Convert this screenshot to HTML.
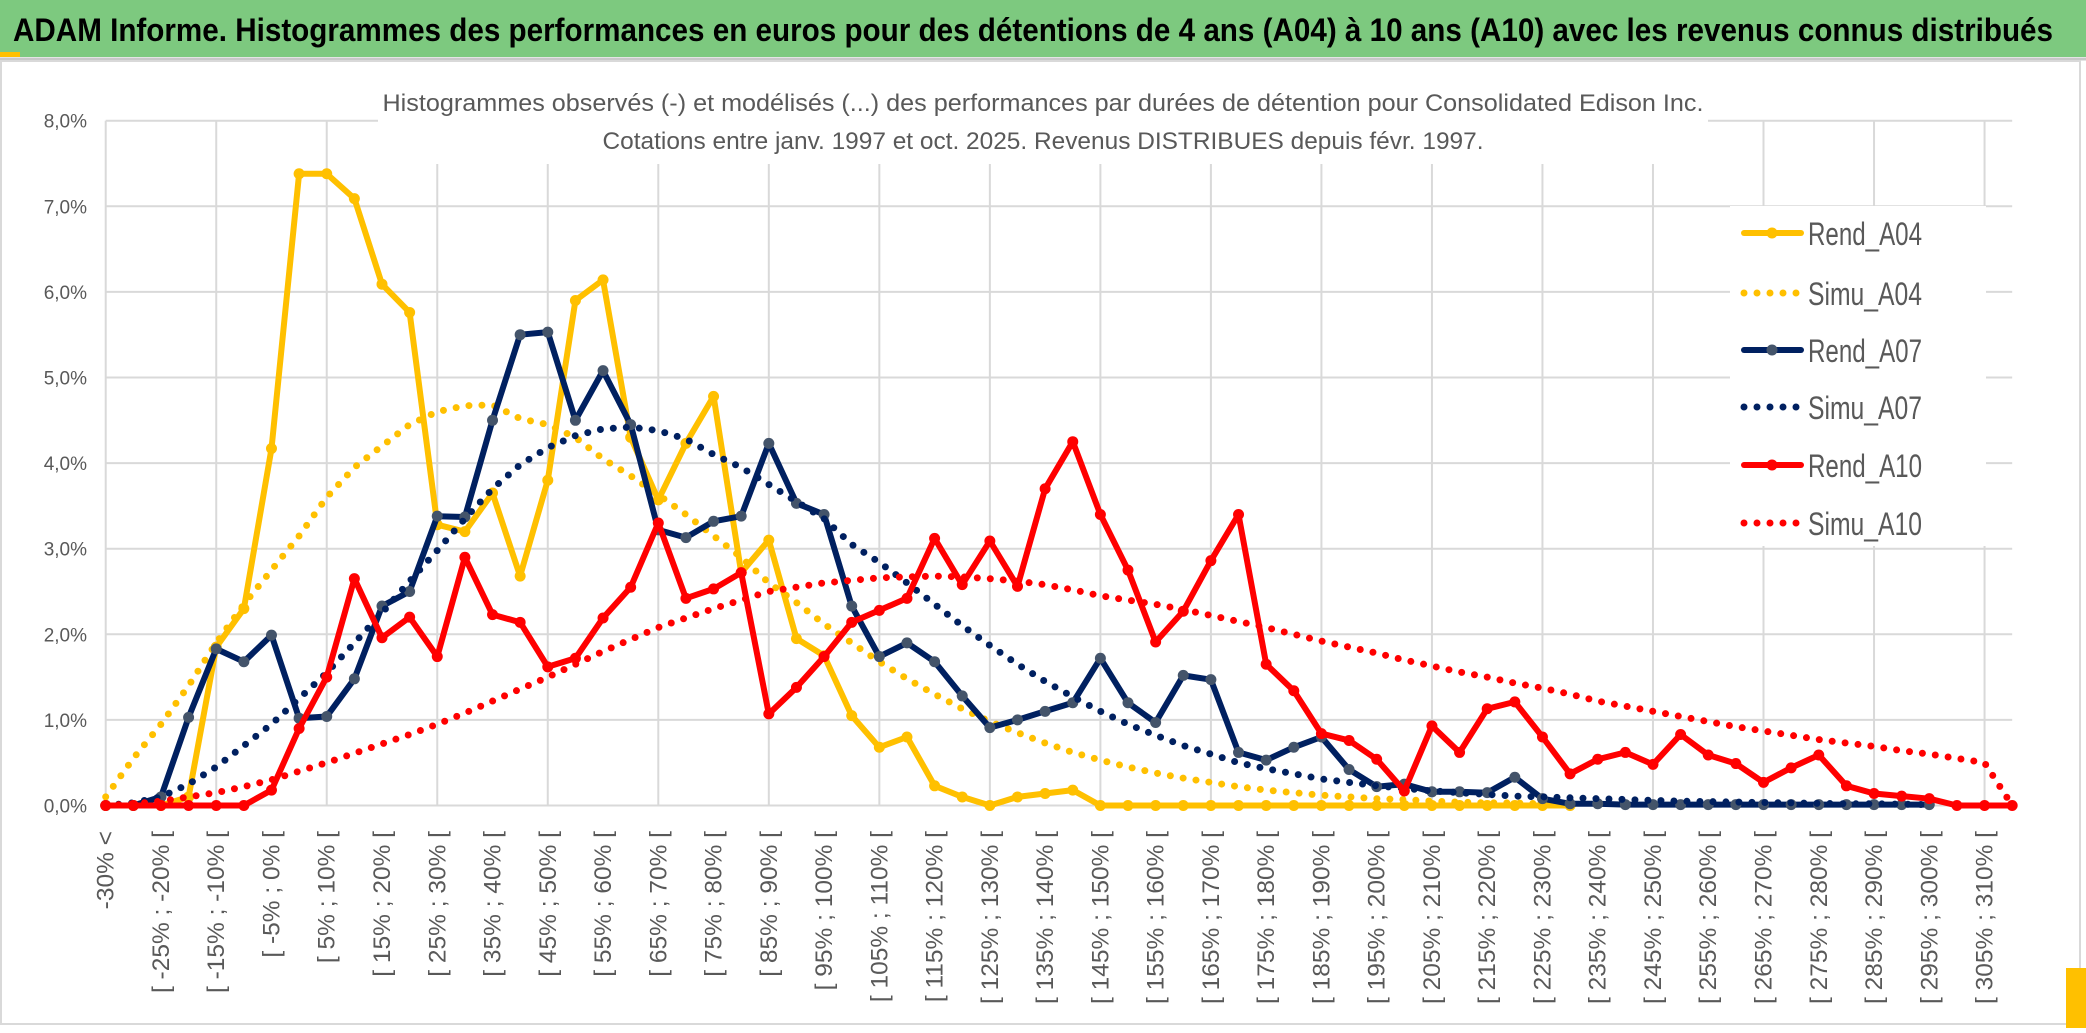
<!DOCTYPE html>
<html><head><meta charset="utf-8"><style>
html,body{margin:0;padding:0;background:#fff;}
svg{display:block;font-family:"Liberation Sans",sans-serif;}
</style></head><body>
<svg id="chart" width="2086" height="1033" viewBox="0 0 2086 1033" xmlns="http://www.w3.org/2000/svg">
<rect x="0" y="0" width="2086" height="1033" fill="#fff"/>
<rect x="0" y="0" width="2086" height="57" fill="#7DC97F"/>
<rect x="0" y="52" width="20" height="5" fill="#FFC000"/>
<text x="13" y="41" font-size="32" font-weight="bold" fill="#000" textLength="2040" lengthAdjust="spacingAndGlyphs">ADAM Informe. Histogrammes des performances en euros pour des détentions de 4 ans (A04) à 10 ans (A10) avec les revenus connus distribués</text>
<line x1="0" y1="59" x2="2086" y2="59" stroke="#C8C8C8" stroke-width="3"/>
<rect x="1" y="61" width="2079" height="963" fill="none" stroke="#D9D9D9" stroke-width="2"/>
<rect x="2066" y="968" width="20" height="60" fill="#FFC000"/>
<g id="grid"></g>
<g id="yaxis"></g>
<g id="xaxis"></g>
<rect x="378" y="78" width="1330" height="86" fill="#fff"/>
<text x="1043" y="111" font-size="24" fill="#595959" text-anchor="middle" textLength="1321" lengthAdjust="spacingAndGlyphs">Histogrammes observés (-) et modélisés (...) des performances par durées de détention pour Consolidated Edison Inc.</text>
<text x="1043" y="149" font-size="24" fill="#595959" text-anchor="middle" textLength="881" lengthAdjust="spacingAndGlyphs">Cotations entre janv. 1997 et oct. 2025. Revenus DISTRIBUES depuis févr. 1997.</text>
<g id="series"></g>
<rect x="1730" y="206" width="256" height="340" fill="#fff"/>
<g id="legend"></g>
</svg>
<script>
const rendA04 = [0,0,0,0.1,1.85,2.3,4.17,7.38,7.38,7.09,6.09,5.76,3.28,3.2,3.65,2.68,3.8,5.9,6.14,4.3,3.57,4.23,4.78,2.72,3.1,1.95,1.75,1.05,0.68,0.8,0.23,0.1,0,0.1,0.14,0.18,0,0,0,0,0,0,0,0,0,0,0,0,0,0,0,0,0,0];
const simuA04 = [0.1,0.55,0.95,1.4,1.9,2.35,2.75,3.15,3.6,3.95,4.2,4.45,4.6,4.67,4.68,4.52,4.45,4.3,4.05,3.85,3.63,3.4,3.15,2.9,2.6,2.37,2.12,1.9,1.68,1.48,1.3,1.13,0.98,0.85,0.73,0.62,0.53,0.45,0.38,0.32,0.27,0.22,0.18,0.15,0.12,0.1,0.08,0.07,0.05,0.04,0.03,0.03,0.02,0.02];
const rendA07 = [0,0,0.1,1.03,1.83,1.68,1.99,1.02,1.04,1.48,2.33,2.5,3.38,3.37,4.5,5.5,5.53,4.5,5.08,4.45,3.22,3.13,3.32,3.38,4.23,3.53,3.4,2.33,1.74,1.9,1.68,1.28,0.91,1.0,1.1,1.2,1.72,1.2,0.97,1.52,1.47,0.62,0.53,0.68,0.8,0.42,0.22,0.25,0.16,0.16,0.15,0.33,0.08,0.02,0.02,0.01,0.01,0.01,0.01,0.01,0.01,0.01,0.01,0.01,0.01,0.01,0.01];
const simuA07 = [0,0.03,0.1,0.25,0.45,0.7,0.95,1.25,1.55,1.9,2.25,2.62,2.98,3.35,3.7,3.98,4.18,4.32,4.4,4.42,4.38,4.28,4.1,3.95,3.75,3.55,3.35,3.05,2.84,2.6,2.35,2.1,1.87,1.65,1.45,1.27,1.1,0.95,0.82,0.7,0.6,0.5,0.43,0.37,0.31,0.27,0.23,0.2,0.17,0.15,0.13,0.11,0.1,0.09,0.08,0.07,0.06,0.05,0.045,0.04,0.035,0.03,0.025,0.02,0.02,0.015,0.01];
const rendA10 = [0,0,0,0,0,0,0.18,0.9,1.5,2.65,1.96,2.2,1.74,2.9,2.23,2.14,1.62,1.72,2.19,2.55,3.3,2.42,2.53,2.72,1.07,1.38,1.74,2.14,2.28,2.42,3.12,2.58,3.09,2.56,3.7,4.25,3.4,2.75,1.91,2.27,2.86,3.4,1.65,1.34,0.84,0.76,0.54,0.17,0.93,0.62,1.13,1.21,0.8,0.37,0.54,0.62,0.48,0.83,0.59,0.49,0.27,0.44,0.59,0.23,0.14,0.11,0.08,0,0,0];
const simuA10 = [0,0.02,0.05,0.1,0.15,0.22,0.3,0.4,0.5,0.61,0.72,0.83,0.95,1.08,1.22,1.36,1.5,1.65,1.8,1.94,2.08,2.19,2.3,2.4,2.5,2.55,2.6,2.63,2.66,2.67,2.68,2.67,2.65,2.62,2.58,2.52,2.45,2.4,2.35,2.29,2.22,2.15,2.08,2.0,1.92,1.85,1.78,1.7,1.63,1.56,1.5,1.43,1.37,1.3,1.22,1.16,1.1,1.04,0.98,0.92,0.87,0.82,0.77,0.73,0.69,0.64,0.6,0.55,0.5,0];
const yTicks = [0,1,2,3,4,5,6,7,8];
const yTickLabels = ["0,0%","1,0%","2,0%","3,0%","4,0%","5,0%","6,0%","7,0%","8,0%"];
const categories = ["-30% <"];
for (let k = 1; k < 70; k++) { const lo = -30 + 5*(k-1); categories.push("[ " + lo + "% ; " + (lo+5) + "% ["); }

const NS = "http://www.w3.org/2000/svg";
const X0 = 105.7, DX = 27.63, Y0 = 805.5, DY = 85.6;
function xScale(i){ return X0 + i*DX; }
function yScale(v){ return Y0 - v*DY; }
function mk(tag, attrs, parent){ const e = document.createElementNS(NS, tag); for (const k in attrs) e.setAttribute(k, attrs[k]); parent.appendChild(e); return e; }

const grid = document.getElementById('grid');
const xRight = xScale(69);
yTicks.forEach(function(v){
  const l = mk('line', {x1:X0, x2:xRight, y1:yScale(v), y2:yScale(v), stroke:'#D9D9D9', 'stroke-width':2}, grid);
  
  
});
for (let i = 0; i < 70; i += 4) {
  const l = mk('line', {x1:xScale(i), x2:xScale(i), y1:yScale(8), y2:yScale(0), stroke:'#D9D9D9', 'stroke-width':2}, grid);
  
  
}
const yaxis = document.getElementById('yaxis');
yTicks.forEach(function(v, k){
  const t = mk('text', {x:87, y:yScale(v)+7, 'font-size':19, fill:'#595959', 'text-anchor':'end'}, yaxis);
  t.textContent = yTickLabels[k];
  
  
});
const xaxis = document.getElementById('xaxis');
categories.forEach(function(c, i){
  if (i % 2 !== 0) return;
  const x = xScale(i) + 8, y = 831;
  const t = mk('text', {x:x, y:y, 'font-size':24.5, fill:'#595959', 'text-anchor':'end', transform:'rotate(-90 '+x+' '+y+')'}, xaxis);
  t.textContent = c;
  
  
});

const series = document.getElementById('series');
function pts(arr){ return arr.map(function(v,i){ return xScale(i).toFixed(1)+','+yScale(v).toFixed(1); }).join(' '); }
function solid(arr, color, mcolor, name){
  const g = mk('g', {}, series);
  
  
  mk('polyline', {points:pts(arr), fill:'none', stroke:color, 'stroke-width':6, 'stroke-linejoin':'round', 'stroke-linecap':'round'}, g);
  arr.forEach(function(v,i){
    const c = mk('circle', {cx:xScale(i), cy:yScale(v), r:5.5, fill:mcolor}, g);
    
    
  });
}
function dotted(arr, color, name){
  const p = mk('polyline', {points:pts(arr), fill:'none', stroke:color, 'stroke-width':7, 'stroke-dasharray':'0 13', 'stroke-linecap':'round', 'stroke-linejoin':'round'}, series);
  
  
}
solid(rendA04, '#FFC000', '#FFC000', 'rend-a04-line');
dotted(simuA04, '#FFC000', 'simu-a04-line');
solid(rendA07, '#002060', '#44546A', 'rend-a07-line');
dotted(simuA07, '#002060', 'simu-a07-line');
solid(rendA10, '#FF0000', '#FF0000', 'rend-a10-line');
dotted(simuA10, '#FF0000', 'simu-a10-line');

const legendNames = ["Rend_A04","Simu_A04","Rend_A07","Simu_A07","Rend_A10","Simu_A10"];
const legendColors = ["#FFC000","#FFC000","#002060","#002060","#FF0000","#FF0000"];
const legendY = [233,293,350,407,465,523];
const legend = document.getElementById('legend');
legendNames.forEach(function(n, k){
  const g = mk('g', {}, legend);
  
  
  const y = legendY[k];
  if (k % 2 === 0) {
    mk('line', {x1:1744, x2:1801, y1:y, y2:y, stroke:legendColors[k], 'stroke-width':6, 'stroke-linecap':'round'}, g);
    mk('circle', {cx:1772, cy:y, r:5.5, fill: k===2 ? '#44546A' : legendColors[k]}, g);
  } else {
    mk('line', {x1:1744, x2:1804, y1:y, y2:y, stroke:legendColors[k], 'stroke-width':7, 'stroke-dasharray':'0 13', 'stroke-linecap':'round'}, g);
  }
  const t = mk('text', {x:1808, y:y+12, 'font-size':32, fill:'#595959', textLength:114, lengthAdjust:'spacingAndGlyphs'}, g);
  t.textContent = n;
});
</script>
</body></html>
